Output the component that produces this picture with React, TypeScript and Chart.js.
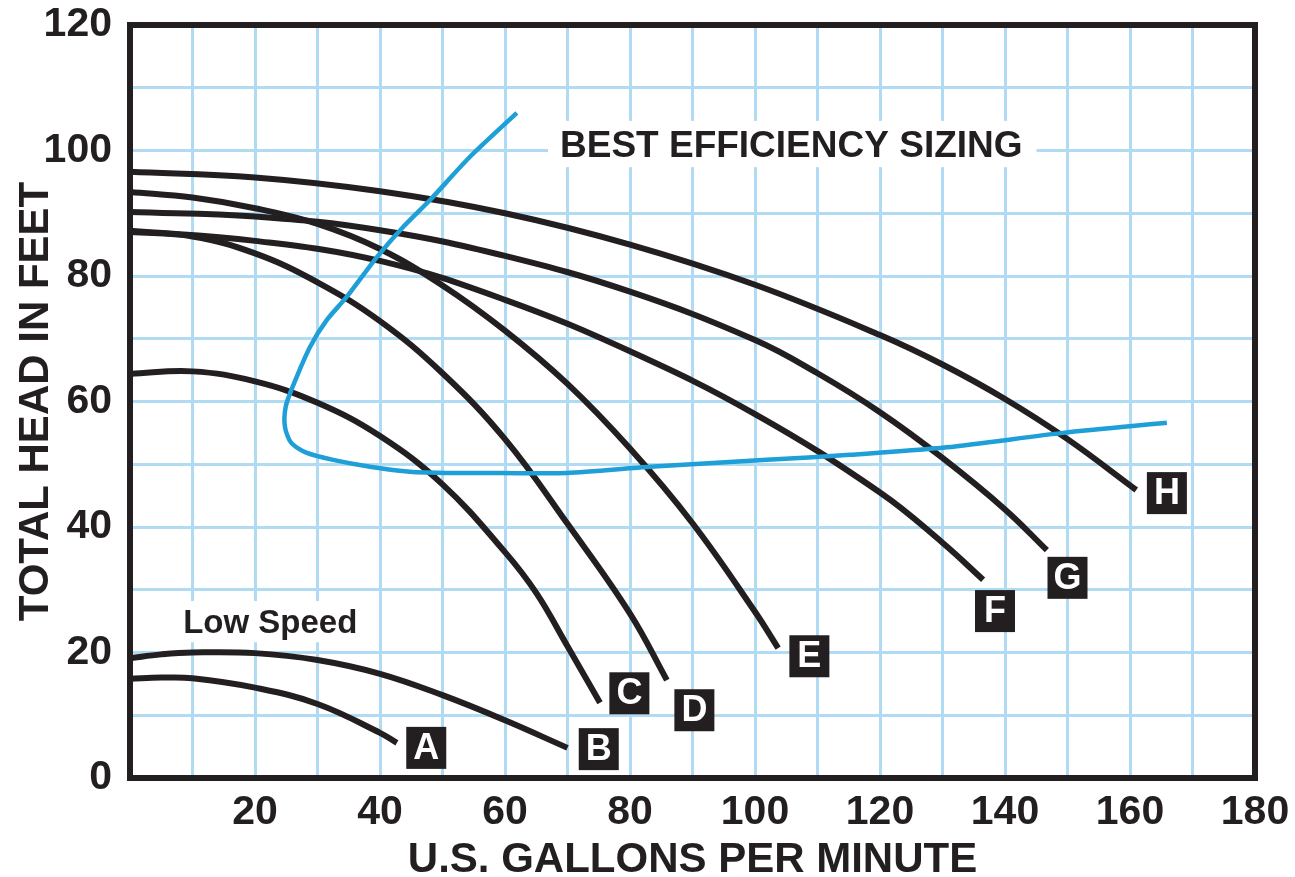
import React, { useEffect, useRef } from 'react';
import { Chart, registerables } from 'chart.js';

Chart.register(...registerables);

// ---- Pump curves (flow in US GPM, head in feet) ----
const flowA = [0, 5, 10, 20, 30, 40, 42.7];
const headA = [15.8, 16.0, 15.9, 14.4, 11.8, 7.2, 5.6];

const flowB = [0, 5, 10, 20, 30, 40, 50, 60, 70];
const headB = [19.1, 19.7, 20.0, 19.9, 18.8, 16.6, 13.2, 9.2, 4.8];

const flowC = [0, 10, 20, 30, 40, 50, 60, 65, 70, 75.2];
const headC = [64.4, 64.8, 63.2, 59.8, 54.5, 46.8, 36.0, 29.5, 21.0, 12.0];

const flowD = [0, 10, 20, 30, 40, 50, 60, 70, 80, 85.9];
const headD = [87.0, 86.3, 83.6, 79.0, 72.8, 64.5, 54.0, 40.5, 26.2, 15.6];

const flowE = [0, 10, 20, 30, 40, 50, 60, 70, 80, 90, 100, 103.7];
const headE = [93.4, 92.5, 90.8, 88.3, 84.3, 78.5, 71.3, 62.8, 52.5, 40.6, 26.5, 20.7];

const flowF = [0, 20, 40, 60, 80, 100, 120, 130, 136.5];
const headF = [87.2, 85.6, 82.4, 76.2, 68.0, 58.0, 45.5, 37.5, 31.6];

const flowG = [0, 20, 40, 60, 80, 100, 110, 120, 130, 140, 146.7];
const headG = [90.2, 89.5, 87.3, 83.2, 77.5, 69.8, 64.5, 58.3, 51.0, 42.8, 36.3];

const flowH = [0, 20, 40, 60, 80, 100, 120, 130, 140, 150, 161];
const headH = [96.6, 95.7, 93.5, 90.0, 85.0, 78.6, 70.6, 65.9, 60.4, 54.0, 45.9];

// ---- Best efficiency sizing curve ----
const bestFlow = [61.9, 54.4, 48.0, 43.7, 39.5, 34.7, 31.5, 28.8, 26.0, 24.9, 24.8, 25.8, 28.3, 32.5, 38.4, 44.8, 51.7, 59.2, 69.9, 83.2, 101.9, 115.2, 130.7, 149.3, 165.9];
const bestHead = [106.0, 99.0, 92.1, 87.8, 83.0, 76.7, 73.0, 68.7, 62.3, 59.1, 55.9, 53.4, 51.8, 50.7, 49.6, 48.8, 48.6, 48.6, 48.6, 49.6, 50.7, 51.5, 52.7, 55.0, 56.6];

// ---- Curve labels ----
const labelNames = ['A', 'B', 'C', 'D', 'E', 'F', 'G', 'H'];
const labelFlow = [47.4, 75.0, 79.9, 90.3, 108.7, 138.4, 150.0, 165.9];
const labelHead = [4.8, 4.6, 13.5, 10.8, 19.4, 26.6, 31.9, 45.4];

// ---- Notes ----
const noteTexts = ['BEST EFFICIENCY SIZING', 'Low Speed'];
const noteFlow = [68.8, 8.5];
const noteHead = [99.0, 23.1];

// ---- Ticks ----
const xTickLabels = ['20', '40', '60', '80', '100', '120', '140', '160', '180'];
const yTickLabels = ['0', '20', '40', '60', '80', '100', '120'];

const FONT = '"Liberation Sans", Arial, Helvetica, sans-serif';
const INK = '#231f20';
const BLUE = '#1e9fd8';
const GRID = 'rgb(176,219,242)';

const pts = (xs: number[], ys: number[]) => xs.map((v, i) => ({ x: v, y: ys[i] }));

const overlay = {
  id: 'overlay',
  beforeDatasetsDraw(chart: any) {
    const { ctx, scales } = chart;
    const x = scales.x, y = scales.y;
    ctx.save();
    noteTexts.forEach((t, i) => {
      const size = i === 0 ? 37 : 33;
      ctx.font = `bold ${size}px ${FONT}`;
      const w = ctx.measureText(t).width;
      const px = x.getPixelForValue(noteFlow[i]);
      const py = y.getPixelForValue(noteHead[i]);
      ctx.fillStyle = '#ffffff';
      ctx.fillRect(px - 12, py - size * 0.97, w + 26, size * 1.25);
      ctx.fillStyle = INK;
      ctx.textAlign = 'left';
      ctx.textBaseline = 'alphabetic';
      ctx.fillText(t, px, py);
    });
    ctx.restore();
  },
  afterDatasetsDraw(chart: any) {
    const { ctx, chartArea: a, scales } = chart;
    const x = scales.x, y = scales.y;
    ctx.save();
    ctx.strokeStyle = INK;
    ctx.lineWidth = 6;
    ctx.strokeRect(a.left, a.top, a.right - a.left, a.bottom - a.top);
    labelNames.forEach((n, i) => {
      const cx = x.getPixelForValue(labelFlow[i]);
      const cy = y.getPixelForValue(labelHead[i]);
      ctx.fillStyle = INK;
      ctx.fillRect(cx - 20, cy - 21, 40, 42);
      ctx.fillStyle = '#ffffff';
      ctx.font = `bold 36px ${FONT}`;
      ctx.textAlign = 'center';
      ctx.textBaseline = 'middle';
      ctx.fillText(n, cx, cy + 1);
    });
    ctx.restore();
  },
};

export default function App() {
  const ref = useRef<HTMLCanvasElement | null>(null);

  useEffect(() => {
    document.body.style.margin = '0';
    document.body.style.overflow = 'hidden';
    const canvas = ref.current;
    if (!canvas) return;

    const pump = (xs: number[], ys: number[]) => ({
      data: pts(xs, ys),
      showLine: true,
      borderColor: INK,
      borderWidth: 6,
      pointRadius: 0,
      tension: 0.4,
      fill: false,
    });

    const chart = new Chart(canvas, {
      type: 'scatter',
      data: {
        datasets: [
          {
            data: pts(bestFlow, bestHead),
            showLine: true,
            borderColor: BLUE,
            borderWidth: 4.5,
            pointRadius: 0,
            tension: 0.25,
            fill: false,
          },
          pump(flowA, headA),
          pump(flowB, headB),
          pump(flowC, headC),
          pump(flowD, headD),
          pump(flowE, headE),
          pump(flowF, headF),
          pump(flowG, headG),
          pump(flowH, headH),
        ] as any,
      },
      options: {
        animation: false,
        responsive: false,
        events: [],
        layout: { padding: { left: 0, right: 40, top: 25, bottom: 0 } },
        plugins: { legend: { display: false }, tooltip: { enabled: false } },
        scales: {
          x: {
            type: 'linear',
            min: 0,
            max: 180,
            afterFit: (s: any) => { s.height = 99; },
            ticks: {
              stepSize: 10,
              autoSkip: false,
              maxRotation: 0,
              padding: 0,
              color: INK,
              font: { family: FONT, size: 41, weight: 'bold', lineHeight: 1.7 },
              callback: (v: any) => (xTickLabels.includes(String(v)) ? String(v) : ''),
            },
            grid: { color: GRID, lineWidth: 3, drawTicks: false },
            border: { display: false },
            title: {
              display: true,
              text: 'U.S. GALLONS PER MINUTE',
              color: INK,
              font: { family: FONT, size: 42, weight: 'bold', lineHeight: 0.8 },
              padding: 0,
            },
          },
          y: {
            type: 'linear',
            min: 0,
            max: 120,
            afterFit: (s: any) => { s.width = 130; },
            ticks: {
              stepSize: 10,
              autoSkip: false,
              padding: 18,
              color: INK,
              font: { family: FONT, size: 41, weight: 'bold', lineHeight: 0.3 },
              callback: (v: any) => (yTickLabels.includes(String(v)) ? String(v) : ''),
            },
            grid: { color: GRID, lineWidth: 3, drawTicks: false },
            border: { display: false },
            title: {
              display: true,
              text: 'TOTAL HEAD IN FEET',
              color: INK,
              font: { family: FONT, size: 42, weight: 'bold', lineHeight: 1 },
              padding: { top: 15, bottom: 0 },
            },
          },
        },
      } as any,
      plugins: [overlay],
    });

    return () => chart.destroy();
  }, []);

  return (
    <div style={{ width: 1295, height: 877 }}>
      <canvas ref={ref} width={1295} height={877} style={{ display: 'block' }} />
    </div>
  );
}
